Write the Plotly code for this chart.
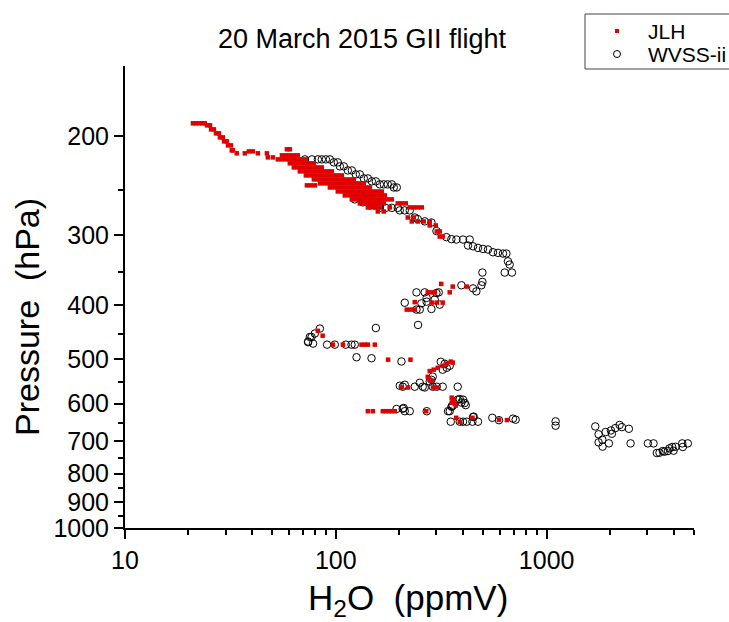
import plotly.graph_objects as go

# ---------------- data (H2O mixing ratio in ppmV, pressure in hPa) ----------------
# JLH hygrometer, upper tail of the profile
jlh_tail = [
    (21.0, 189.8), (21.7, 189.8), (22.4, 189.8), (23.2, 189.8), (23.9, 189.8),
    (24.5, 191.4), (25.3, 191.4), (25.6, 194.6), (26.4, 194.6), (27.0, 197.8), (27.9, 197.8),
    (28.2, 201.1), (29.1, 201.1), (29.5, 204.4), (30.4, 204.4), (30.8, 207.8), (31.8, 207.8),
    (32.1, 212.1), (32.5, 212.1), (33.9, 214.7), (37.0, 214.7), (42.7, 214.7), (47.1, 214.7),
    (38.7, 213.0), (40.4, 213.0), (47.6, 218.3), (50.3, 218.3),
]

# JLH hygrometer, dense upper-tropospheric band (one row per pressure level)
jlh_band_rows = [
    (211.2, [58.6, 60.5]),
    (216.5, [55.5, 57.9, 60.5, 63.2, 66.0]),
    (220.1, [53.1, 55.5, 57.9, 60.5, 63.2, 66.0, 69.0, 72.1]),
    (223.7, [60.5, 63.2, 66.0, 69.0, 72.1, 75.3, 78.7]),
    (227.5, [63.2, 66.0, 69.0, 72.1, 75.3, 78.7, 82.2, 85.8]),
    (231.2, [67.5, 70.5, 73.7, 77.0, 80.4, 84.0, 87.7, 91.6, 95.7]),
    (235.1, [72.1, 75.3, 78.7, 82.2, 85.8, 89.7, 93.7, 97.8, 102.2, 106.8]),
    (239.0, [78.7, 82.2, 85.8, 89.7, 93.7, 97.8, 102.2, 106.8, 111.5, 116.5, 121.7]),
    (242.9, [84.0, 87.7, 91.6, 95.7, 100.0, 104.5, 109.1, 114.0, 119.1, 124.4, 130.0, 135.8]),
    (244.9, [72.9, 76.1, 79.5]),
    (247.0, [93.7, 97.8, 102.2, 106.8, 111.5, 116.5, 121.7, 127.1, 132.8, 138.8, 145.0]),
    (251.1, [102.2, 106.8, 111.5, 116.5, 121.7, 127.1, 132.8, 138.8, 145.0, 151.4, 158.2, 165.3]),
    (255.2, [110.3, 115.2, 120.4, 125.8, 131.4, 137.3, 143.4, 149.8, 156.5, 163.5, 170.8]),
    (259.4, [119.1, 124.4, 130.0, 135.8, 141.9, 148.2, 154.8, 161.7, 168.9, 176.4, 184.3]),
    (263.7, [130.0, 135.8, 141.9, 148.2, 154.8, 161.7, 168.9, 196.7, 205.5, 214.6]),
    (268.1, [141.9, 148.2, 154.8, 161.7, 180.3, 224.2, 234.2, 244.7, 255.6]),
    (272.6, [158.2, 168.9]),
    (279.4, [219.4, 234.2]),
    (284.0, [229.2, 244.7, 261.3, 278.9]),
    (288.7, [278.9, 297.8]),
    (295.9, [301.1, 311.1]),
    (302.1, [311.1, 321.4]),
]

# JLH hygrometer, mid and lower troposphere
jlh_lower = [
    (316.0, 367.0), (358.5, 371.1), (347.0, 380.0), (417.8, 371.1),
    (272.9, 380.0), (285.1, 380.0), (294.6, 380.0), (236.8, 395.5),
    (217.0, 407.9), (226.7, 407.9), (236.8, 407.9), (285.1, 396.3), (301.1, 396.3), (321.4, 396.3),
    (82.2, 445.0), (86.6, 454.0), (96.8, 471.0), (108.0, 471.0), (132.4, 471.0), (137.3, 471.0),
    (141.9, 471.0), (153.1, 471.0), (177.0, 501.0), (226.0, 501.0),
    (278.9, 525.0), (291.4, 522.0), (304.4, 518.0), (321.4, 514.0), (335.8, 509.0), (350.8, 505.0),
    (358.5, 507.0), (272.9, 537.5), (278.9, 544.0), (285.1, 546.3),
    (204.8, 561.6), (220.2, 561.6), (289.0, 561.6), (301.1, 561.6),
    (141.9, 619.0), (149.8, 619.0), (167.1, 619.0), (172.6, 619.0), (178.4, 619.0), (184.3, 619.0),
    (190.4, 619.0), (268.5, 619.0),
    (354.6, 585.5), (358.5, 595.0), (366.4, 600.0), (370.4, 605.0), (354.6, 597.7), (362.4, 590.0),
    (372.5, 636.0), (387.0, 647.0), (444.6, 636.0), (594.3, 641.0), (648.3, 642.0),
]

# WVSS-ii, edges and streaks of the upper band
wvss_band_rows = [
    (220.1, [71.3, 77.0, 82.2, 85.8, 89.7, 93.7]),
    (222.8, [97.8, 102.2]),
    (226.5, [104.5, 109.1]),
    (230.3, [114.0, 119.1]),
    (234.1, [124.4, 130.0]),
    (238.0, [135.8, 141.9]),
    (240.9, [148.2, 154.8]),
    (243.9, [161.7, 168.9, 176.4, 184.3]),
    (247.0, [188.4, 194.6]),
    (255.2, [130.0, 137.3, 145.0]),
    (259.4, [123.0, 132.8, 141.9]),
    (262.6, [134.3, 141.9, 148.2, 154.8]),
    (265.9, [145.0, 153.1, 161.7]),
    (268.6, [161.7, 172.6, 184.3, 196.7]),
    (271.4, [201.1, 212.3, 224.2]),
]

# WVSS-ii, rest of the profile
wvss_lower = [
    (236.8, 279.4), (244.7, 281.3), (264.1, 283.9), (284.2, 285.2), (300.1, 295.4),
    (334.6, 302.9), (353.4, 305.4), (373.3, 305.9), (401.3, 305.9), (431.6, 305.9),
    (423.6, 313.5), (447.5, 314.5), (472.5, 316.6), (499.0, 317.9), (527.0, 318.7),
    (556.6, 322.3), (587.7, 323.1), (620.8, 324.0), (644.2, 324.0), (655.4, 334.5),
    (667.7, 339.0), (632.5, 350.3), (684.7, 350.3), (495.8, 350.3), (495.8, 364.0),
    (490.4, 369.1), (447.5, 373.8), (394.2, 369.1), (464.3, 378.5),
    (241.3, 380.0), (264.1, 380.0), (300.1, 381.0), (307.7, 380.0), (269.6, 388.7),
    (212.3, 396.5), (254.8, 397.5), (269.6, 394.8), (294.6, 391.4), (311.1, 399.6),
    (284.2, 406.8), (250.1, 407.9), (241.3, 407.9),
    (84.0, 440.9), (79.5, 450.0), (76.7, 456.4), (73.9, 466.3), (78.0, 469.0), (75.3, 456.4),
    (73.9, 465.0), (90.9, 471.0), (98.9, 471.0), (111.5, 471.0), (118.7, 471.0), (123.0, 471.0),
    (125.4, 496.0), (147.7, 498.0), (154.8, 439.9), (204.8, 504.7), (245.5, 434.4),
    (314.5, 505.3), (328.6, 509.5), (347.0, 513.7), (335.8, 518.0), (321.4, 522.0),
    (288.2, 537.0), (284.2, 544.1),
    (201.1, 557.5), (207.8, 559.8), (212.3, 555.3), (236.8, 559.8), (250.1, 550.8), (258.4, 559.8),
    (264.1, 561.6), (288.2, 559.8), (301.1, 559.8), (321.4, 559.8), (378.6, 559.8), (278.9, 548.0),
    (194.0, 613.4), (207.8, 612.7), (210.0, 611.0), (212.3, 619.0), (224.2, 619.0), (270.0, 619.0),
    (340.6, 619.0),
    (378.6, 590.4), (387.0, 589.0), (401.3, 590.4), (408.7, 598.5), (413.2, 603.8), (394.2, 597.5),
    (358.5, 605.2), (354.6, 606.6), (347.0, 619.0), (354.6, 607.8),
    (350.8, 646.3), (387.0, 646.3), (401.3, 646.3), (417.8, 646.3), (444.6, 646.3), (472.5, 646.3),
    (450.8, 633.0), (447.5, 634.0), (552.5, 636.0), (594.3, 642.3), (692.3, 638.2), (713.0, 641.0),
    (1103.0, 645.5), (1103.0, 657.0),
    (1701.0, 659.0), (1764.0, 680.6), (1764.0, 703.5), (1837.0, 696.0), (1904.0, 674.3),
    (1974.0, 706.4), (2018.0, 669.9), (2117.0, 663.5), (2275.0, 660.9), (2455.0, 665.4),
    (2501.0, 706.5), (1842.0, 716.0), (2040.0, 679.0), (2218.0, 655.0),
    (3021.0, 706.5), (3214.0, 706.5), (3332.0, 735.0), (3558.0, 729.0), (3757.0, 729.0),
    (3942.0, 717.0), (4000.0, 728.0), (4397.0, 706.5), (4426.0, 717.0), (4675.0, 706.5),
    (3825.0, 721.0), (4087.0, 716.5), (3430.0, 734.0), (3625.0, 731.0),
]

# axis tick values
x_major = [10, 100, 1000]
x_minor = [20, 30, 40, 50, 60, 70, 80, 90, 200, 300, 400, 500, 600, 700, 800, 900,
           2000, 3000, 4000, 5000]
y_major = [200, 300, 400, 500, 600, 700, 800, 900, 1000]
y_minor = [250, 350, 450, 550, 650, 750, 850, 950]

series_names = ["JLH", "WVSS-ii"]
JLH_RED = "#e00000"


def expand_rows(rows):
    xs, ys = [], []
    for p, vals in rows:
        for v in vals:
            xs.append(v)
            ys.append(p)
    return xs, ys


jx, jy = expand_rows(jlh_band_rows)
jlh_h2o = [a for a, _ in jlh_tail] + jx + [a for a, _ in jlh_lower]
jlh_p = [b for _, b in jlh_tail] + jy + [b for _, b in jlh_lower]

wx, wy = expand_rows(wvss_band_rows)
wvss_h2o = wx + [a for a, _ in wvss_lower]
wvss_p = wy + [b for _, b in wvss_lower]

FONT = "Liberation Sans, Arial, Helvetica, sans-serif"
W, H = 729, 622
M_L, M_R, M_T, M_B = 125, 35, 66, 94
PLOT_W, PLOT_H = W - M_L - M_R, H - M_T - M_B


def px(xp):
    """page pixel column -> paper x"""
    return (xp - M_L) / PLOT_W


def py(yp):
    """page pixel row -> paper y"""
    return (H - M_B - yp) / PLOT_H


fig = go.Figure()
fig.add_trace(go.Scatter(
    x=wvss_h2o, y=wvss_p, mode="markers", name=series_names[1], showlegend=False,
    marker=dict(symbol="circle-open", size=7.5, color="black", line=dict(width=1, color="black")),
))
fig.add_trace(go.Scatter(
    x=jlh_h2o, y=jlh_p, mode="markers", name=series_names[0], showlegend=False,
    marker=dict(symbol="square", size=4.5, color=JLH_RED, line=dict(width=0)),
))

axis_common = dict(
    type="log", showline=True, linecolor="black", linewidth=2, mirror=False,
    ticks="outside", ticklen=9, tickwidth=1.5, tickcolor="black",
    showgrid=False, zeroline=False,
    tickfont=dict(family=FONT, size=25, color="black"),
)

# legend box (runs off the right edge of the page) with its two entries
legend_shapes = [
    dict(type="rect", xref="paper", yref="paper", x0=px(585), x1=px(745), y0=py(69), y1=py(14),
         line=dict(color="#444444", width=1), fillcolor="white", layer="above"),
    dict(type="rect", xref="paper", yref="paper", x0=px(615), x1=px(619), y0=py(33), y1=py(29),
         line=dict(width=0), fillcolor=JLH_RED, layer="above"),
    dict(type="circle", xref="paper", yref="paper", x0=px(613.5), x1=px(620.5), y0=py(57.5),
         y1=py(50.5), line=dict(color="black", width=1), fillcolor="rgba(0,0,0,0)", layer="above"),
]
legend_labels = [
    dict(text=series_names[0], xref="paper", yref="paper", x=px(646), y=py(31),
         xanchor="left", yanchor="middle", showarrow=False,
         font=dict(family=FONT, size=21, color="black")),
    dict(text=series_names[1], xref="paper", yref="paper", x=px(646), y=py(54),
         xanchor="left", yanchor="middle", showarrow=False,
         font=dict(family=FONT, size=21, color="black")),
]

fig.update_layout(
    width=W, height=H,
    margin=dict(l=M_L, r=M_R, t=M_T, b=M_B, autoexpand=False),
    paper_bgcolor="white", plot_bgcolor="white",
    font=dict(family=FONT, color="black"),
    title=dict(text="20 March 2015 GII flight", x=362 / W, xanchor="center",
               y=1 - 39 / H, yanchor="middle", yref="container",
               font=dict(family=FONT, size=27, color="black")),
    xaxis=dict(axis_common, range=[1, 3.699], tickmode="array", tickvals=x_major,
               ticktext=[str(v) for v in x_major],
               minor=dict(tickmode="array", tickvals=x_minor, ticks="outside", ticklen=5,
                          tickwidth=1.5, tickcolor="black", showgrid=False)),
    yaxis=dict(axis_common, range=[3, 2.1761], tickmode="array", tickvals=y_major,
               ticktext=[str(v) for v in y_major],
               minor=dict(tickmode="array", tickvals=y_minor, ticks="outside", ticklen=5,
                          tickwidth=1.5, tickcolor="black", showgrid=False)),
    showlegend=False,
    shapes=legend_shapes,
    annotations=legend_labels + [
        dict(text="Pressure  (hPa)", xref="paper", yref="paper",
             x=px(27), y=py(317), textangle=-90,
             xanchor="center", yanchor="middle", showarrow=False,
             font=dict(family=FONT, size=34, color="black")),
        dict(text="H<sub>2</sub>O  (ppmV)", xref="paper", yref="paper",
             x=px(408), y=py(600),
             xanchor="center", yanchor="middle", showarrow=False,
             font=dict(family=FONT, size=35, color="black")),
    ],
)

fig.write_html("out.html")
